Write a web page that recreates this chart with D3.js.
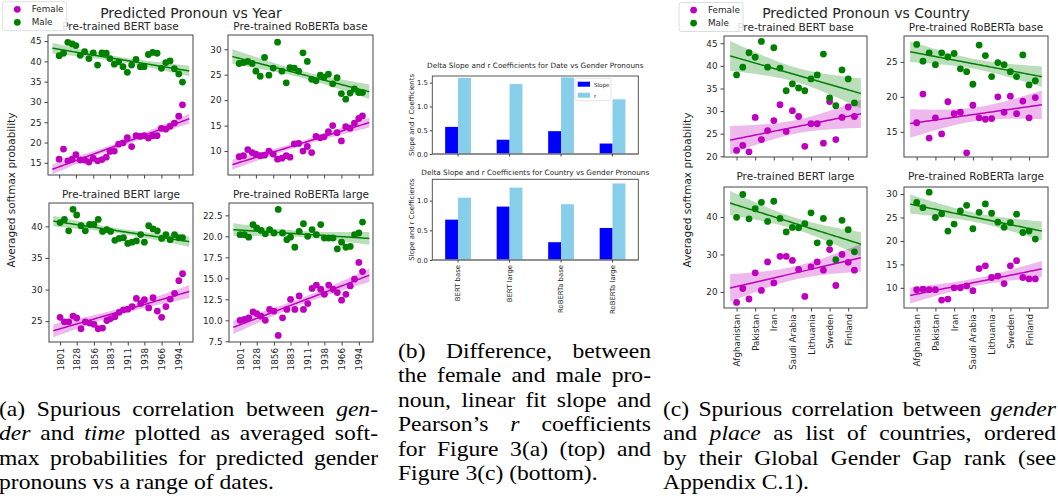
<!DOCTYPE html>
<html>
<head>
<meta charset="utf-8">
<script src="https://cdn.jsdelivr.net/npm/d3@7"></script>
<style>
  body { margin: 0; background: #fff; }
  svg { display: block; }
  .mpl { font-family: "DejaVu Sans", sans-serif; fill: #262626; }
  .cap { font-family: "Liberation Serif", "Times New Roman", serif; fill: #000; }
</style>
</head>
<body>
<svg id="fig" width="1058" height="497"></svg>
<script>
// ---- data ----
const years = [1801, 1808, 1815, 1822, 1828, 1835, 1842, 1849, 1856, 1863, 1870, 1877, 1883, 1890, 1897,
  1904, 1911, 1918, 1925, 1932, 1938, 1945, 1952, 1959, 1966, 1973, 1980, 1987, 1994, 2000];
const yearTicks = [1801, 1828, 1856, 1883, 1911, 1938, 1966, 1994];

const bertBaseYearF = [15.9, 18.4, 15.5, 15.9, 17.0, 15.7, 15.7, 15.2, 16.1, 15.5, 15.8, 16.4, 17.8, 17.9, 19.6,
  19.9, 21.2, 19.0, 21.7, 21.5, 21.7, 21.1, 21.7, 21.7, 23.5, 23.3, 24.0, 24.8, 26.5, 29.3];
const bertBaseYearM = [41.4, 42.0, 44.7, 44.3, 43.9, 41.5, 42.4, 40.7, 42.1, 39.1, 42.1, 42.0, 40.7, 39.3, 39.9,
  38.7, 37.3, 39.1, 40.5, 38.7, 38.7, 41.7, 42.2, 42.0, 38.3, 39.7, 40.1, 38.2, 36.9, 34.9];
const robertaBaseYearF = [8.9, 9.1, 10.3, 9.7, 9.4, 9.1, 9.2, 10.0, 9.4, 8.4, 8.6, 9.1, 8.8, 11.4, 11.5,
  10.0, 10.9, 9.7, 12.9, 12.6, 12.8, 13.8, 15.0, 13.6, 12.0, 14.8, 14.5, 15.5, 16.4, 16.9];
const robertaBaseYearM = [27.2, 27.4, 27.6, 27.2, 25.7, 24.7, 28.4, 24.9, 26.3, 31.4, 25.7, 23.4, 26.4, 26.3, 25.7,
  29.3, 27.6, 24.1, 23.8, 24.9, 24.5, 25.1, 23.2, 24.4, 21.3, 20.2, 21.4, 22.2, 21.5, 21.5];
const bertLargeYearF = [25.6, 24.9, 24.9, 25.8, 25.5, 23.8, 24.9, 24.7, 24.5, 23.8, 23.9, 25.1, 25.4, 25.7, 26.4,
  26.8, 26.9, 27.3, 28.6, 27.8, 28.4, 27.1, 28.7, 26.6, 25.6, 27.3, 28.5, 29.4, 31.4, 32.5];
const bertLargeYearM = [40.6, 41.1, 39.3, 42.7, 41.8, 40.1, 39.3, 40.3, 40.3, 41.1, 39.2, 39.5, 39.2, 37.8, 38.1,
  38.2, 37.3, 37.5, 37.7, 38.7, 37.5, 40.1, 39.6, 39.3, 38.1, 38.7, 37.9, 38.7, 38.2, 38.2];
const robertaLargeYearF = [10.0, 10.1, 10.3, 11.0, 10.8, 10.5, 10.0, 11.3, 11.1, 8.2, 10.3, 11.3, 12.5, 11.3, 12.9,
  11.3, 12.0, 13.8, 14.2, 13.7, 13.1, 14.2, 13.7, 13.3, 12.4, 13.1, 14.1, 14.9, 16.9, 15.8];
const robertaLargeYearM = [20.2, 20.2, 19.9, 21.4, 21.0, 20.7, 20.3, 20.8, 20.4, 23.2, 20.4, 19.6, 19.9, 18.7, 20.6,
  21.5, 20.0, 20.8, 20.2, 21.4, 19.8, 19.8, 19.8, 18.5, 19.3, 18.7, 18.8, 20.2, 20.4, 21.7];

// countries ordered by Global Gender Gap rank, only every third one is labelled
const countryRank = [0, 1, 2, 3, 4, 5, 6, 7, 8, 9, 10, 11, 12, 13, 14, 15, 16, 17, 18, 19];
const countryTickRank = [0, 3, 6, 9, 12, 15, 18];
const countryTicks = ['Afghanistan', 'Pakistan', 'Iran', 'Saudi Arabia', 'Lithuania', 'Sweden', 'Finland'];

const bertBaseCountryF = [21.3, 22.4, 21.0, 28.6, 23.7, 25.7, 27.9, 31.4, 25.5, 30.1, 28.8, 22.2, 27.2, 27.2, 22.9,
  32.1, 23.7, 28.6, 30.9, 28.8];
const bertBaseCountryM = [38.0, 39.7, 42.9, 41.9, 45.4, 39.7, 44.0, 39.5, 34.5, 36.0, 35.1, 34.5, 37.1, 38.0, 42.6,
  32.9, 31.2, 39.1, 37.1, 31.8];
const robertaBaseCountryF = [16.3, 20.4, 14.1, 17.0, 14.7, 19.3, 17.6, 17.8, 12.0, 18.8, 17.0, 16.8, 16.9, 20.0, 17.8,
  20.1, 17.6, 19.4, 17.0, 19.9];
const robertaBaseCountryM = [27.5, 25.1, 26.3, 24.6, 26.3, 25.7, 26.2, 24.0, 23.6, 21.8, 27.4, 25.9, 22.9, 24.9, 24.6,
  23.6, 22.9, 26.0, 21.7, 22.3];
const bertLargeCountryF = [17.2, 20.9, 18.1, 25.1, 20.4, 28.0, 22.4, 29.5, 29.5, 28.4, 26.0, 18.8, 26.7, 28.0, 25.8,
  31.3, 21.7, 30.0, 27.9, 25.8];
const bertLargeCountryM = [39.9, 46.0, 39.5, 42.2, 43.9, 38.8, 44.2, 39.6, 36.0, 37.2, 37.1, 38.2, 41.1, 33.1, 39.6,
  33.1, 28.6, 39.1, 36.6, 30.7];
const robertaLargeCountryF = [9.6, 9.7, 9.6, 9.6, 7.4, 7.6, 10.0, 10.0, 10.4, 9.4, 14.1, 14.7, 12.2, 12.5, 10.9,
  14.7, 15.8, 12.2, 11.9, 11.9];
const robertaLargeCountryM = [28.2, 27.1, 30.4, 25.0, 25.8, 22.1, 23.6, 26.4, 27.6, 22.6, 26.1, 27.9, 25.9, 24.0, 22.9,
  23.9, 25.7, 21.8, 22.1, 20.4];

// panel (b): difference female - male
const models = ['BERT base', 'BERT large', 'RoBERTa base', 'RoBERTa large'];
const dateSlope = [0.57, 0.30, 0.48, 0.22];
const dateR = [1.60, 1.47, 1.61, 1.15];
const countrySlope = [0.68, 0.90, 0.30, 0.54];
const countryR = [1.05, 1.22, 0.94, 1.29];

const captionA = ['(a) Spurious correlation between _gen-_', '_der_ and _time_ plotted as averaged soft-',
  'max probabilities for predicted gender', 'pronouns vs a range of dates.'];
const captionB = ['(b) Difference, between', 'the female and male pro-', 'noun, linear fit slope and',
  'Pearson\u2019s _r_ coefficients', 'for Figure 3(a) (top) and', 'Figure 3(c) (bottom).'];
const captionC = ['(c) Spurious correlation between _gender_', 'and _place_ as list of countries, ordered',
  'by their Global Gender Gap rank (see', 'Appendix C.1).'];

const FEMALE = '#bf00bf', MALE = '#008000';
const svg = d3.select('#fig');
let clipId = 0;

// least squares fit plus 95% band for the mean
function fitLine(xs, ys) {
  const n = xs.length;
  const mx = d3.mean(xs), my = d3.mean(ys);
  let sxx = 0, sxy = 0;
  xs.forEach((x, i) => { sxx += (x - mx) * (x - mx); sxy += (x - mx) * (ys[i] - my); });
  const b = sxy / sxx, a = my - b * mx;
  const s = Math.sqrt(d3.sum(xs, (x, i) => Math.pow(ys[i] - a - b * x, 2)) / (n - 2));
  const t = n >= 30 ? 2.048 : 2.101;
  return (x) => {
    const yh = a + b * x;
    const h = t * s * Math.sqrt(1 / n + (x - mx) * (x - mx) / sxx);
    return [yh, yh - h, yh + h];
  };
}

function scatterPanel(cfg) {
  const x = d3.scaleLinear().domain(cfg.xDomain).range([cfg.x0, cfg.x1]);
  const y = d3.scaleLinear().domain(cfg.yDomain).range([cfg.y1, cfg.y0]);
  const g = svg.append('g');
  const id = 'clip' + (clipId++);
  g.append('clipPath').attr('id', id).append('rect')
    .attr('x', cfg.x0).attr('y', cfg.y0).attr('width', cfg.x1 - cfg.x0).attr('height', cfg.y1 - cfg.y0);
  const plot = g.append('g').attr('clip-path', `url(#${id})`);

  const series = [{ v: cfg.female, c: FEMALE }, { v: cfg.male, c: MALE }];
  const lo = d3.min(cfg.xs), hi = d3.max(cfg.xs), ext = (hi - lo) * 0.055;
  const grid = d3.range(0, 61).map(k => lo - ext + (hi - lo + 2 * ext) * k / 60);
  const fits = series.map(s => fitLine(cfg.xs, s.v));

  series.forEach((s, si) => {
    plot.append('g').selectAll('circle').data(s.v).enter().append('circle')
      .attr('cx', (d, i) => x(cfg.xs[i]))
      .attr('cy', d => y(d))
      .attr('r', 3.4)
      .attr('fill', s.c);
    const pts = grid.map(gx => [gx, fits[si](gx)]);
    plot.append('path')
      .datum(pts)
      .attr('d', d3.area().x(d => x(d[0])).y0(d => y(d[1][1])).y1(d => y(d[1][2])))
      .attr('fill', s.c).attr('fill-opacity', 0.27).attr('stroke', 'none');
  });
  series.forEach((s, si) => {
    const pts = grid.map(gx => [gx, fits[si](gx)]);
    plot.append('path')
      .datum(pts)
      .attr('d', d3.line().x(d => x(d[0])).y(d => y(d[1][0])))
      .attr('fill', 'none').attr('stroke', s.c).attr('stroke-width', 1.5);
  });

  // frame
  g.append('rect')
    .attr('x', cfg.x0).attr('y', cfg.y0).attr('width', cfg.x1 - cfg.x0).attr('height', cfg.y1 - cfg.y0)
    .attr('fill', 'none').attr('stroke', '#444').attr('stroke-width', 1);

  // y axis
  const ya = g.append('g').attr('class', 'mpl')
    .attr('transform', `translate(${cfg.x0},0)`)
    .call(d3.axisLeft(y).tickValues(cfg.yTicks).tickFormat(cfg.yFmt || d3.format('d')).tickSize(3.5).tickPadding(3));
  ya.select('.domain').remove();
  ya.selectAll('line').attr('stroke', '#444');
  ya.selectAll('text').attr('fill', '#262626').style('font-size', '8.8px').style('font-family', 'DejaVu Sans');

  // x axis
  const xa = g.append('g')
    .attr('transform', `translate(0,${cfg.y1})`)
    .call(d3.axisBottom(x).tickValues(cfg.xTickVals).tickSize(3.5)
      .tickFormat((d, i) => cfg.showX ? cfg.xTickLabels[i] : ''));
  xa.select('.domain').remove();
  xa.selectAll('line').attr('stroke', '#444');
  xa.selectAll('text')
    .attr('transform', 'rotate(-90)')
    .attr('x', -6).attr('y', 0).attr('dy', '0.35em')
    .style('text-anchor', 'end')
    .attr('fill', '#262626').style('font-size', '8.8px').style('font-family', 'DejaVu Sans');

  g.append('text').attr('class', 'mpl')
    .attr('x', (cfg.x0 + cfg.x1) / 2).attr('y', cfg.titleY)
    .attr('text-anchor', 'middle').style('font-size', '10.5px')
    .text(cfg.title);
}

function legend(x0, y0) {
  const g = svg.append('g').attr('class', 'mpl');
  g.append('rect').attr('x', x0).attr('y', y0).attr('width', 64).attr('height', 29).attr('rx', 2.5)
    .attr('fill', '#fff').attr('fill-opacity', 0.85).attr('stroke', '#d6d6d6').attr('stroke-width', 0.8);
  [['Female', FEMALE], ['Male', MALE]].forEach((d, i) => {
    g.append('circle').attr('cx', x0 + 14.6).attr('cy', y0 + 7.6 + i * 13).attr('r', 3.4).attr('fill', d[1]);
    g.append('text').attr('x', x0 + 29).attr('y', y0 + 10.7 + i * 13).style('font-size', '8.8px').text(d[0]);
  });
}

function yLabel(x, y, txt, size) {
  svg.append('text').attr('class', 'mpl')
    .attr('transform', `translate(${x},${y}) rotate(-90)`)
    .attr('text-anchor', 'middle').attr('dy', '0.35em')
    .style('font-size', size + 'px').text(txt);
}

// ---- panel (a): pronoun vs year ----
const yearDomain = [1783, 2017];
const yearPanels = [
  { x0: 48, x1: 193, y0: 35, y1: 175, yDomain: [12.0, 46.5], yTicks: [15, 20, 25, 30, 35, 40, 45],
    female: bertBaseYearF, male: bertBaseYearM, title: 'Pre-trained BERT base', titleY: 30, showX: false },
  { x0: 228, x1: 373, y0: 35, y1: 175, yDomain: [5.3, 32.8], yTicks: [10, 15, 20, 25, 30],
    female: robertaBaseYearF, male: robertaBaseYearM, title: 'Pre-trained RoBERTa base', titleY: 30, showX: false },
  { x0: 49, x1: 193, y0: 203, y1: 342, yDomain: [21.7, 43.7], yTicks: [25, 30, 35, 40],
    female: bertLargeYearF, male: bertLargeYearM, title: 'Pre-trained BERT large', titleY: 198, showX: true },
  { x0: 229, x1: 373, y0: 203, y1: 342, yDomain: [7.42, 23.97], yTicks: [7.5, 10, 12.5, 15, 17.5, 20, 22.5],
    yFmt: d3.format('.1f'),
    female: robertaLargeYearF, male: robertaLargeYearM, title: 'Pre-trained RoBERTa large', titleY: 198, showX: true }
];
yearPanels.forEach(p => scatterPanel(Object.assign({ xs: years, xDomain: yearDomain,
  xTickVals: yearTicks, xTickLabels: yearTicks }, p)));

// ---- panel (c): pronoun vs country ----
const countryDomain = [-2.03, 21.03];
const countryPanels = [
  { x0: 724, x1: 867, y0: 36, y1: 157, yDomain: [19.85, 46.6], yTicks: [20, 25, 30, 35, 40, 45],
    female: bertBaseCountryF, male: bertBaseCountryM, title: 'Pre-trained BERT base', titleY: 30.5, showX: false },
  { x0: 904, x1: 1048, y0: 36, y1: 157, yDomain: [11.4, 28.7], yTicks: [15, 20, 25],
    female: robertaBaseCountryF, male: robertaBaseCountryM, title: 'Pre-trained RoBERTa base', titleY: 30.5, showX: false },
  { x0: 724, x1: 867, y0: 187, y1: 308, yDomain: [15.7, 48.0], yTicks: [20, 30, 40],
    female: bertLargeCountryF, male: bertLargeCountryM, title: 'Pre-trained BERT large', titleY: 180, showX: true },
  { x0: 904, x1: 1048, y0: 187, y1: 308, yDomain: [5.7, 31.5], yTicks: [10, 15, 20, 25, 30],
    female: robertaLargeCountryF, male: robertaLargeCountryM, title: 'Pre-trained RoBERTa large', titleY: 180, showX: true }
];
countryPanels.forEach(p => scatterPanel(Object.assign({ xs: countryRank, xDomain: countryDomain,
  xTickVals: countryTickRank, xTickLabels: countryTicks }, p)));

svg.append('text').attr('class', 'mpl').attr('x', 191).attr('y', 17.5)
  .attr('text-anchor', 'middle').style('font-size', '14px').text('Predicted Pronoun vs Year');
svg.append('text').attr('class', 'mpl').attr('x', 866).attr('y', 17.5)
  .attr('text-anchor', 'middle').style('font-size', '14px').text('Predicted Pronoun vs Country');
yLabel(11.7, 190, 'Averaged softmax probability', 10.5);
yLabel(687, 190, 'Averaged softmax probability', 10.5);
legend(2.7, 1.7);
legend(679, 2.5);

// ---- panel (b): grouped bars ----
function barPanel(cfg) {
  const x = d3.scaleBand().domain(models).range([432.3, 638.3]);
  const y = d3.scaleLinear().domain(cfg.yDomain).range([cfg.y1, cfg.y0]);
  const bw = x.bandwidth() * 0.25;
  const g = svg.append('g');
  const rows = models.map((m, i) => ({ m: m, slope: cfg.slope[i], r: cfg.r[i] }));
  g.selectAll('.slope').data(rows).enter().append('rect')
    .attr('x', d => x(d.m) + x.bandwidth() / 2 - bw).attr('width', bw)
    .attr('y', d => y(d.slope)).attr('height', d => y(0) - y(d.slope))
    .attr('fill', '#0000ff');
  g.selectAll('.r').data(rows).enter().append('rect')
    .attr('x', d => x(d.m) + x.bandwidth() / 2).attr('width', bw)
    .attr('y', d => y(d.r)).attr('height', d => y(0) - y(d.r))
    .attr('fill', '#87ceeb');
  g.append('rect').attr('x', 432.3).attr('y', cfg.y0).attr('width', 206).attr('height', cfg.y1 - cfg.y0)
    .attr('fill', 'none').attr('stroke', '#444').attr('stroke-width', 0.9);
  g.append('line').attr('x1', 432.3).attr('x2', 638.3).attr('y1', cfg.y1).attr('y2', cfg.y1)
    .attr('stroke', '#888').attr('stroke-width', 1.6);

  const ya = g.append('g').attr('transform', 'translate(432.3,0)')
    .call(d3.axisLeft(y).tickValues(cfg.yTicks).tickFormat(d3.format('.1f')).tickSize(2.5).tickPadding(2));
  ya.select('.domain').remove();
  ya.selectAll('line').attr('stroke', '#444');
  ya.selectAll('text').attr('fill', '#262626').style('font-size', '6.8px').style('font-family', 'DejaVu Sans');

  const xa = g.append('g').attr('transform', `translate(0,${cfg.y1})`)
    .call(d3.axisBottom(x).tickSize(2.5).tickFormat(d => cfg.showX ? d : ''));
  xa.select('.domain').remove();
  xa.selectAll('line').attr('stroke', '#444');
  xa.selectAll('text')
    .attr('transform', 'rotate(-90)').attr('x', -5).attr('y', 0).attr('dy', '0.35em')
    .style('text-anchor', 'end')
    .attr('fill', '#262626').style('font-size', '6.9px').style('font-family', 'DejaVu Sans');

  g.append('text').attr('class', 'mpl').attr('x', 535.3).attr('y', cfg.titleY)
    .attr('text-anchor', 'middle').style('font-size', '7.3px').text(cfg.title);
  yLabel(411.5, (cfg.y0 + cfg.y1) / 2, 'Slope and r Coefficients', 6.9);

  if (cfg.legend) {
    const lg = g.append('g').attr('class', 'mpl');
    lg.append('rect').attr('x', 575).attr('y', 78.3).attr('width', 36).attr('height', 22.4).attr('rx', 1.5)
      .attr('fill', '#fff').attr('stroke', '#d6d6d6').attr('stroke-width', 0.7);
    [['Slope', '#0000ff'], ['r', '#87ceeb']].forEach((d, i) => {
      lg.append('rect').attr('x', 577.7).attr('y', 81.7 + i * 11).attr('width', 12.3).attr('height', 5)
        .attr('fill', d[1]);
      lg.append('text').attr('x', 594).attr('y', 86.6 + i * 11).style('font-size', '5.6px').text(d[0]);
    });
  }
}
barPanel({ y0: 76, y1: 154, yDomain: [0, 1.64], yTicks: [0, 0.5, 1.0, 1.5], slope: dateSlope, r: dateR,
  title: 'Delta Slope and r Coefficients for Date vs Gender Pronouns', titleY: 68, showX: false, legend: true });
barPanel({ y0: 179.3, y1: 260, yDomain: [0, 1.36], yTicks: [0, 0.5, 1.0], slope: countrySlope, r: countryR,
  title: 'Delta Slope and r Coefficients for Country vs Gender Pronouns', titleY: 174.5, showX: true, legend: false });

// ---- captions, justified word by word (the scan is a bit stretched sideways) ----
const CAP_SIZE = 20.5, CAP_SX = 1.15;
function caption(lines, x0, x1, y0, lh) {
  const g = svg.append('g').attr('class', 'cap')
    .attr('transform', `translate(${x0},0) scale(${CAP_SX},1)`)
    .style('font-size', CAP_SIZE + 'px');
  const w = (x1 - x0) / CAP_SX;
  lines.forEach((line, li) => {
    const words = line.split(' ');
    const nodes = words.map(t => {
      const it = t.startsWith('_');
      return g.append('text').attr('y', y0 + li * lh)
        .style('font-style', it ? 'italic' : 'normal')
        .text(t.replace(/_/g, ''));
    });
    const widths = nodes.map(n => n.node().getComputedTextLength());
    const last = li === lines.length - 1;
    const gap = last || words.length < 2 ? CAP_SIZE * 0.25 : (w - d3.sum(widths)) / (words.length - 1);
    let cx = 0;
    nodes.forEach((n, i) => { n.attr('x', cx); cx += widths[i] + gap; });
  });
}
caption(captionA, -1, 378, 416, 24.5);
caption(captionB, 398, 651, 358, 24.5);
caption(captionC, 663, 1056, 416, 24.5);
</script>
</body>
</html>
